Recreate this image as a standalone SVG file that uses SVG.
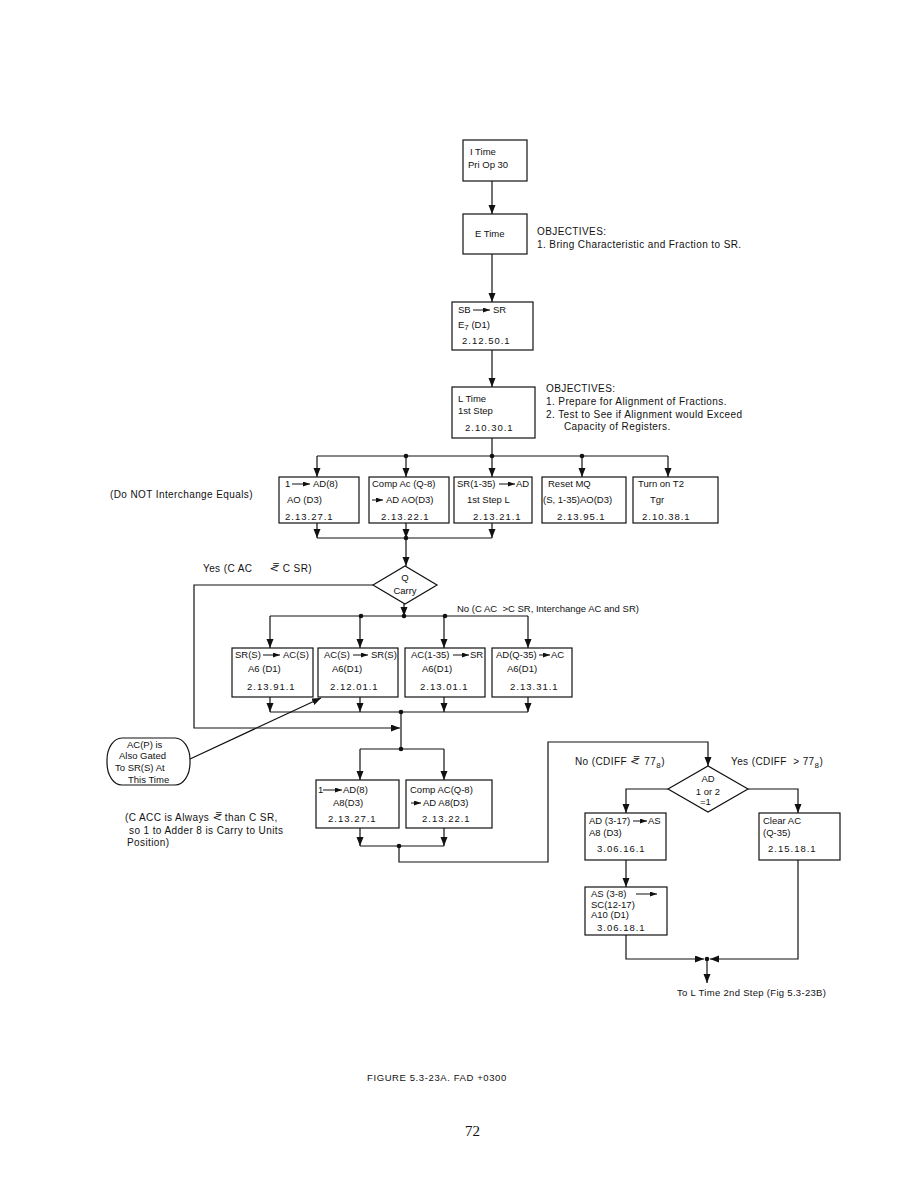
<svg xmlns="http://www.w3.org/2000/svg" width="923" height="1192" viewBox="0 0 923 1192">
<defs>
<marker id="ah" markerUnits="userSpaceOnUse" markerWidth="10" markerHeight="8" refX="9" refY="3.5" orient="auto"><path d="M0,0 L9,3.5 L0,7 z" fill="#111"/></marker>
<marker id="sm" markerUnits="userSpaceOnUse" markerWidth="8" markerHeight="6" refX="7" refY="2.5" orient="auto"><path d="M0,0 L7,2.5 L0,5 z" fill="#111"/></marker>
<style>
.b{fill:#fff;stroke:#111;stroke-width:1.2}
.c{fill:none;stroke:#111;stroke-width:1.2}
.a{fill:none;stroke:#111;stroke-width:1.2;marker-end:url(#ah)}
.s{fill:none;stroke:#111;stroke-width:1;marker-end:url(#sm)}
.d{fill:#111}
text{font-family:"Liberation Sans","DejaVu Sans",sans-serif;font-size:9.5px;fill:#111}
.n{letter-spacing:1px}
.t{font-size:10px;letter-spacing:0.4px}
.sym{font-family:"DejaVu Sans",sans-serif;font-size:11px;letter-spacing:0}
</style>
</defs>
<rect width="923" height="1192" fill="#fff"/>

<g id="connectors">
<path class="a" d="M492,181 V214"/>
<path class="a" d="M492,254 V302"/>
<path class="a" d="M492,350 V387"/>
<path class="c" d="M492,438 V456"/>
<path class="c" d="M317,456 H668"/>
<path class="a" d="M317,456 V477"/>
<path class="a" d="M406,456 V477"/>
<path class="a" d="M492,456 V477"/>
<path class="a" d="M582,456 V477"/>
<path class="a" d="M668,456 V477"/>
<circle class="d" cx="406" cy="456" r="2.3"/>
<circle class="d" cx="492" cy="456" r="2.3"/>
<circle class="d" cx="582" cy="456" r="2.3"/>
<path class="a" d="M317,523 V538"/>
<path class="a" d="M406,523 V538"/>
<path class="a" d="M492,523 V538"/>
<path class="c" d="M317,538 H492"/>
<circle class="d" cx="406" cy="538" r="2.3"/>
<path class="a" d="M406,538 V566"/>
<path class="a" d="M404,604 V616"/>
<path class="c" d="M270,616 H528"/>
<circle class="d" cx="361" cy="616" r="2.3"/>
<circle class="d" cx="404" cy="616" r="2.3"/>
<circle class="d" cx="445" cy="616" r="2.3"/>
<path class="a" d="M270,616 V648"/>
<path class="a" d="M360,616 V648"/>
<path class="a" d="M444,616 V648"/>
<path class="a" d="M528,616 V648"/>
<path class="a" d="M270,697 V712"/>
<path class="a" d="M360,697 V712"/>
<path class="a" d="M444,697 V712"/>
<path class="a" d="M528,697 V712"/>
<path class="c" d="M270,712 H528"/>
<circle class="d" cx="401" cy="712" r="2.3"/>
<path class="c" d="M401,712 V749"/>
<path class="a" d="M373,585 H194 V728 H400"/>
<path class="a" d="M190,759 L321,698"/>
<circle class="d" cx="401" cy="749" r="2.3"/>
<path class="c" d="M360,749 H444"/>
<path class="a" d="M360,749 V780"/>
<path class="a" d="M444,749 V780"/>
<path class="a" d="M360,828 V846"/>
<path class="a" d="M444,828 V846"/>
<path class="c" d="M360,846 H444"/>
<circle class="d" cx="399" cy="846" r="2.3"/>
<path class="a" d="M399,846 V862 H548 V742 H708 V766"/>
<path class="a" d="M668,789 H626 V813"/>
<path class="a" d="M748,789 H798 V813"/>
<path class="a" d="M626,860 V887"/>
<path class="a" d="M626,935 V959 H704"/>
<path class="a" d="M798,860 V959 H710"/>
<circle class="d" cx="707" cy="959" r="2.3"/>
<path class="a" d="M707,959 V983"/>
</g>

<g id="n-itime">
<rect class="b" x="463" y="140" width="64" height="41"/>
<text x="470" y="155">I Time</text>
<text x="468" y="168">Pri Op 30</text>
</g>
<g id="n-etime">
<rect class="b" x="463" y="214" width="64" height="40"/>
<text x="475" y="237">E Time</text>
</g>
<g id="obj1">
<text class="t" x="537" y="235">OBJECTIVES:</text>
<text class="t" x="537" y="248">1.  Bring Characteristic and Fraction to SR.</text>
</g>
<g id="n-sbsr">
<rect class="b" x="452" y="302" width="81" height="48"/>
<text x="458" y="313">SB</text>
<path class="s" d="M473,310 H490"/>
<text x="493" y="313">SR</text>
<text x="458" y="328">E<tspan font-size="8" dy="2">7</tspan><tspan dy="-2"> (D1)</tspan></text>
<text class="n" x="462" y="344">2.12.50.1</text>
</g>
<g id="n-ltime">
<rect class="b" x="452" y="387" width="83" height="51"/>
<text x="458" y="402">L Time</text>
<text x="458" y="414">1st Step</text>
<text class="n" x="465" y="431">2.10.30.1</text>
</g>
<g id="obj2">
<text class="t" x="546" y="392">OBJECTIVES:</text>
<text class="t" x="546" y="405">1.  Prepare for Alignment of Fractions.</text>
<text class="t" x="546" y="418">2.  Test to See if Alignment would Exceed</text>
<text class="t" x="564" y="430">Capacity of Registers.</text>
</g>
<g id="note-equals">
<text class="t" x="110" y="498">(Do NOT Interchange Equals)</text>
</g>
<g id="n-r1">
<rect class="b" x="279" y="477" width="80" height="46"/>
<text x="285" y="487">1</text>
<path class="s" d="M292,484 H310"/>
<text x="313" y="487">AD(8)</text>
<text x="287" y="503">AO (D3)</text>
<text class="n" x="285" y="520">2.13.27.1</text>
</g>
<g id="n-r2">
<rect class="b" x="369" y="477" width="80" height="46"/>
<text x="372" y="487">Comp Ac (Q-8)</text>
<path class="s" d="M372,500 H383"/>
<text x="386" y="503">AD AO(D3)</text>
<text class="n" x="381" y="520">2.13.22.1</text>
</g>
<g id="n-r3">
<rect class="b" x="454" y="477" width="78" height="46"/>
<text x="457" y="487">SR(1-35)</text>
<path class="s" d="M499,484 H515"/>
<text x="516" y="487">AD</text>
<text x="467" y="503">1st Step L</text>
<text class="n" x="473" y="520">2.13.21.1</text>
</g>
<g id="n-r4">
<rect class="b" x="542" y="477" width="84" height="46"/>
<text x="548" y="487">Reset MQ</text>
<text x="543" y="503">(S, 1-35)AO(D3)</text>
<text class="n" x="557" y="520">2.13.95.1</text>
</g>
<g id="n-r5">
<rect class="b" x="633" y="477" width="85" height="46"/>
<text x="638" y="487">Turn on T2</text>
<text x="650" y="503">Tgr</text>
<text class="n" x="642" y="520">2.10.38.1</text>
</g>
<g id="n-qcarry">
<path class="b" d="M373,585 L405,566 L437,585 L405,604 z"/>
<text x="405" y="581" text-anchor="middle">Q</text>
<text x="405" y="594" text-anchor="middle">Carry</text>
</g>
<g id="lbl-yes1">
<text class="t" x="203" y="572">Yes (C AC <tspan class="sym" dx="14">&lt;&#x033F;</tspan><tspan dx="4">C SR)</tspan></text>
</g>
<g id="lbl-no1">
<text x="457" y="612">No (C AC&#160;&#160;&gt;C SR, Interchange AC and SR)</text>
</g>
<g id="n-sA">
<rect class="b" x="232" y="648" width="81" height="49"/>
<text x="235" y="658">SR(S)</text>
<path class="s" d="M263,655 H280"/>
<text x="283" y="658">AC(S)</text>
<text x="248" y="672">A6 (D1)</text>
<text class="n" x="247" y="690">2.13.91.1</text>
</g>
<g id="n-sB">
<rect class="b" x="318" y="648" width="80" height="49"/>
<text x="324" y="658">AC(S)</text>
<path class="s" d="M353,655 H368"/>
<text x="371" y="658">SR(S)</text>
<text x="332" y="672">A6(D1)</text>
<text class="n" x="330" y="690">2.12.01.1</text>
</g>
<g id="n-sC">
<rect class="b" x="405" y="648" width="80" height="49"/>
<text x="411" y="658">AC(1-35)</text>
<path class="s" d="M453,655 H469"/>
<text x="470" y="658">SR</text>
<text x="422" y="672">A6(D1)</text>
<text class="n" x="420" y="690">2.13.01.1</text>
</g>
<g id="n-sD">
<rect class="b" x="492" y="648" width="80" height="49"/>
<text x="496" y="658">AD(Q-35)</text>
<path class="s" d="M539,655 H550"/>
<text x="551" y="658">AC</text>
<text x="507" y="672">A6(D1)</text>
<text class="n" x="510" y="690">2.13.31.1</text>
</g>
<g id="n-callout">
<rect class="b" x="107" y="738" width="83" height="47" rx="15" ry="22"/>
<text x="127" y="748">AC(P) is</text>
<text x="119" y="759">Also Gated</text>
<text x="115" y="771">To SR(S) At</text>
<text x="128" y="783">This Time</text>
</g>
<g id="note-acc">
<text class="t" x="125" y="821">(C ACC is Always <tspan class="sym">&lt;&#x033F;</tspan> than C SR,</text>
<text class="t" x="129" y="834">so 1 to Adder 8 is Carry to Units</text>
<text class="t" x="127" y="846">Position)</text>
</g>
<g id="n-e">
<rect class="b" x="316" y="780" width="83" height="48"/>
<text x="318" y="793">1</text>
<path class="s" d="M323,790 H342"/>
<text x="343" y="793">AD(8)</text>
<text x="333" y="806">A8(D3)</text>
<text class="n" x="328" y="822">2.13.27.1</text>
</g>
<g id="n-f">
<rect class="b" x="406" y="780" width="86" height="48"/>
<text x="410" y="793">Comp AC(Q-8)</text>
<path class="s" d="M411,803 H421"/>
<text x="423" y="806">AD A8(D3)</text>
<text class="n" x="422" y="822">2.13.22.1</text>
</g>
<g id="lbl-no2">
<text class="t" x="575" y="765">No (CDIFF <tspan class="sym">&lt;&#x033F;</tspan><tspan dx="5">77</tspan><tspan font-size="8" dy="3">8</tspan><tspan dy="-3">)</tspan></text>
</g>
<g id="lbl-yes2">
<text class="t" x="731" y="765">Yes (CDIFF&#160;&#160;&gt;&#160;77<tspan font-size="8" dy="3">8</tspan><tspan dy="-3">)</tspan></text>
</g>
<g id="n-ad">
<path class="b" d="M668,789 L708,766 L748,789 L708,812 z"/>
<text x="708" y="782" text-anchor="middle">AD</text>
<text x="708" y="795" text-anchor="middle">1 or 2</text>
<text x="700" y="805">=1</text>
</g>
<g id="n-g">
<rect class="b" x="585" y="813" width="81" height="47"/>
<text x="589" y="824">AD (3-17)</text>
<path class="s" d="M633,821 H647"/>
<text x="648" y="824">AS</text>
<text x="589" y="836">A8 (D3)</text>
<text class="n" x="597" y="852">3.06.16.1</text>
</g>
<g id="n-h">
<rect class="b" x="759" y="813" width="81" height="47"/>
<text x="763" y="824">Clear AC</text>
<text x="763" y="836">(Q-35)</text>
<text class="n" x="768" y="852">2.15.18.1</text>
</g>
<g id="n-i">
<rect class="b" x="585" y="887" width="82" height="48"/>
<text x="591" y="897">AS (3-8)</text>
<path class="s" d="M636,894 H657"/>
<text x="591" y="908">SC(12-17)</text>
<text x="591" y="918">A10 (D1)</text>
<text class="n" x="597" y="931">3.06.18.1</text>
</g>
<g id="lbl-out">
<text x="677" y="996" style="letter-spacing:0.3px">To L Time 2nd Step (Fig 5.3-23B)</text>
</g>
<g id="caption">
<text x="367" y="1081" style="font-size:9.5px;letter-spacing:0.6px">FIGURE 5.3-23A.  FAD +0300</text>
<text x="465" y="1136" style="font-family:'Liberation Serif','DejaVu Serif',serif;font-size:15px">72</text>
</g>
</svg>
